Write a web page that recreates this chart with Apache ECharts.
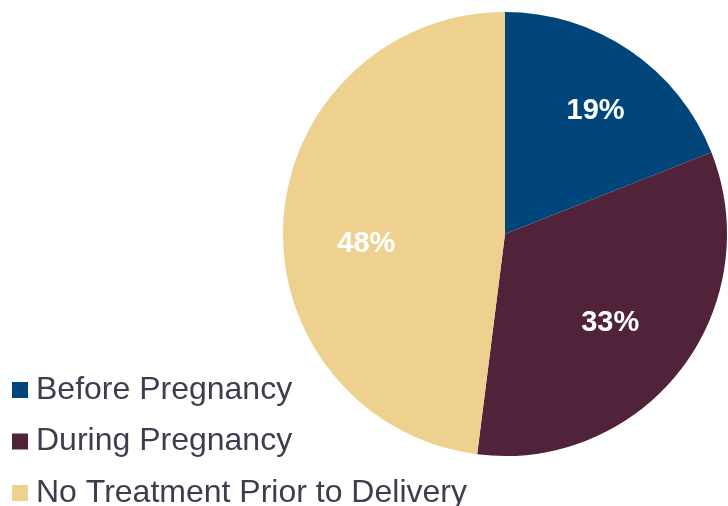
<!DOCTYPE html>
<html><head><meta charset="utf-8">
<script src="https://cdn.jsdelivr.net/npm/echarts@6/dist/echarts.min.js"></script>
<style>html,body{margin:0;padding:0;background:#fff}#c{width:728px;height:506px}</style>
</head><body><div id="c"></div>
<script>
const categories = ['Before Pregnancy', 'During Pregnancy', 'No Treatment Prior to Delivery'];
const values = [19, 33, 48];

const colors = ['#01467A', '#51233A', '#EED18E'];
const labelNudge = [[8, -1], [-11, -1], [8, 19]];
const chart = echarts.init(document.getElementById('c'));
chart.setOption({
  animation: false,
  legend: {
    orient: 'vertical', left: 12, top: 374, height: 300, width: 700, padding: 0,
    itemWidth: 16, itemHeight: 16, itemGap: 19.5,
    icon: 'rect',
    textStyle: { fontFamily: 'Liberation Sans', fontSize: 32, color: '#3D3D50', lineHeight: 30, padding: [0, 0, 0, 3] },
    data: categories
  },
  series: [{
    type: 'pie', center: [505, 234], radius: [0, 222], startAngle: 90, clockwise: true,
    label: { show: false }, labelLine: { show: false },
    data: categories.map((n, i) => ({ name: n, value: values[i], itemStyle: { color: colors[i] } }))
  }, {
    type: 'pie', center: [505, 234], radius: [66, 222], startAngle: 90, clockwise: true,
    silent: true, legendHoverLink: false,
    itemStyle: { color: 'rgba(0,0,0,0)' },
    label: { show: true, position: 'inside', formatter: '{c}%', color: '#fff', fontFamily: 'Liberation Sans', fontWeight: 'bold', fontSize: 29 },
    labelLine: { show: false },
    data: categories.map((n, i) => ({ name: n + ' ', value: values[i], label: { offset: labelNudge[i] } }))
  }]
});
</script></body></html>
